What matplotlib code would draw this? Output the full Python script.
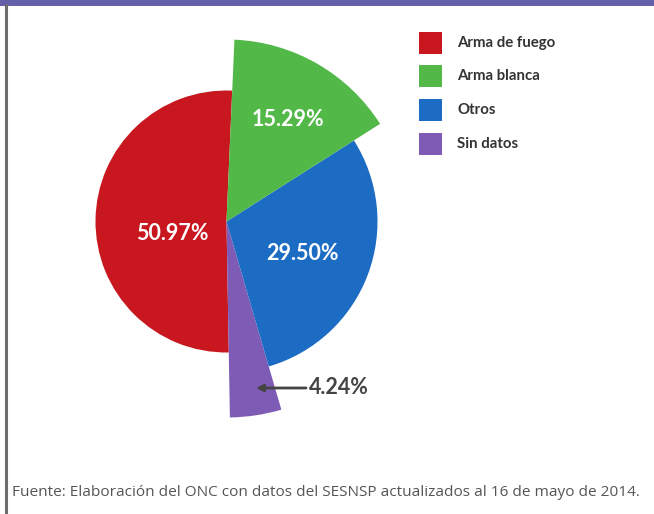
"""Pie of homicides by weapon type (ONC / SESNSP, May 2014), uneven wedge radii."""
import numpy as np
import matplotlib
matplotlib.use("Agg")
import matplotlib.pyplot as plt
from matplotlib.patches import Wedge, Rectangle

plt.rcParams["font.family"] = ["Lato", "DejaVu Sans"]

# data
categories = ["Arma de fuego", "Sin datos", "Otros", "Arma blanca"]
shares = [50.97, 4.24, 29.50, 15.29]
pct_labels = ["50.97%", "4.24%", "29.50%", "15.29%"]
legend_order = ["Arma de fuego", "Arma blanca", "Otros", "Sin datos"]
source_text = ("Fuente: Elaboración del ONC con datos del SESNSP "
               "actualizados al 16 de mayo de 2014.")

# style
COLORS = {
    "Arma de fuego": "#C8171E",
    "Arma blanca": "#52B848",
    "Otros": "#1D6CC4",
    "Sin datos": "#7E5BB5",
}
RADII = {"Arma de fuego": 131, "Sin datos": 196, "Otros": 151, "Arma blanca": 182}
START = 87.5

W, H = 654, 514
fig = plt.figure(figsize=(W / 100, H / 100), dpi=100)
ax = fig.add_axes([0, 0, 1, 1])
ax.set_xlim(0, W)
ax.set_ylim(0, H)
ax.axis("off")

# frame: purple band on top, grey rule on the left
ax.add_patch(Rectangle((0, H - 6), W, 6, color="#6560A9", lw=0))
ax.plot([6, 6], [0, H - 4], color="#6E6E6E", lw=2.2, solid_capstyle="butt")

# wedges, counter-clockwise from the top
cx, cy = 226.5, H - 221.5
angles = START + np.concatenate([[0], np.cumsum(shares)]) * 3.6
for i, cat in enumerate(categories):
    ax.add_patch(Wedge((cx, cy), RADII[cat], angles[i], angles[i + 1],
                       facecolor=COLORS[cat], edgecolor="none", zorder=2))

# percentage labels
lab = dict(color="white", fontsize=15.5, fontweight="bold",
           ha="center", va="center", zorder=3)
ax.text(172, H - 233, pct_labels[0], **lab)
ax.text(302, H - 254, pct_labels[2], **lab)
ax.text(288, H - 119, pct_labels[3], **lab)
ax.text(309, H - 388, pct_labels[1], color="#444444", fontsize=15.5,
        fontweight="bold", ha="left", va="center", zorder=3)
ax.annotate("", xy=(256, H - 388), xytext=(306, H - 388),
            arrowprops=dict(arrowstyle="-|>", color="#444444", lw=2,
                            mutation_scale=10, shrinkA=0, shrinkB=0),
            zorder=3)

# legend
for k, cat in enumerate(legend_order):
    yc = H - (42.5 + k * 33.8)
    ax.add_patch(Rectangle((419, yc - 11), 23, 22, color=COLORS[cat], lw=0))
    ax.text(457, yc, cat, color="#333333", fontsize=10.8, fontweight="bold",
            ha="left", va="center")

# source note
ax.text(12, H - 492, source_text, color="#555555", fontsize=11.1,
        family=["Open Sans", "DejaVu Sans"], ha="left", va="center")

fig.savefig("out.png", dpi=100, facecolor="white")
